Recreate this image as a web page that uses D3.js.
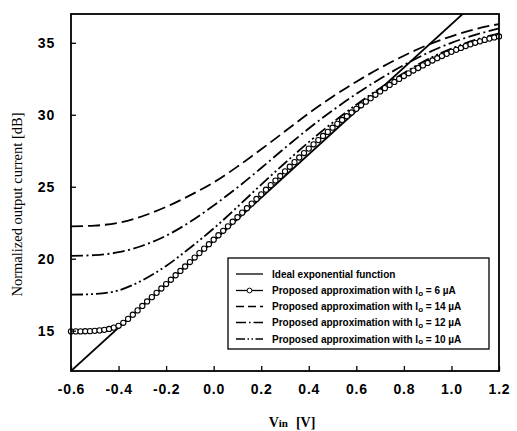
<!DOCTYPE html>
<html>
<head>
<meta charset="utf-8">
<script src="https://cdn.jsdelivr.net/npm/d3@7"></script>
<style>
  html, body { margin: 0; padding: 0; background: #fff; }
  svg { display: block; }
</style>
</head>
<body>
<svg id="chart" width="517" height="431"></svg>
<script>
// ---------------- data ----------------
const xTicks = [-0.6, -0.4, -0.2, 0.0, 0.2, 0.4, 0.6, 0.8, 1.0, 1.2];
const xTickLabels = ["-0.6", "-0.4", "-0.2", "0.0", "0.2", "0.4", "0.6", "0.8", "1.0", "1.2"];
const yTicks = [15, 20, 25, 30, 35];
const yTickLabels = ["15", "20", "25", "30", "35"];

// ideal exponential function (straight line in dB)
const vinIdeal = [-0.6, 1.2];
const ideal = [12.2, 39.3];

// coarse grid for the other approximations
const vinCoarse = [-0.6, -0.5, -0.4, -0.3, -0.2, -0.1, 0.0, 0.1, 0.2, 0.3, 0.4, 0.5, 0.6, 0.7, 0.8, 0.9, 1.0, 1.1, 1.2];
const approx14 = [22.25, 22.3, 22.5, 22.95, 23.6, 24.4, 25.3, 26.4, 27.6, 28.85, 30.1, 31.25, 32.3, 33.25, 34.1, 34.85, 35.45, 35.95, 36.3];
const approx12 = [20.2, 20.25, 20.45, 20.9, 21.6, 22.55, 23.7, 24.95, 26.3, 27.7, 29.05, 30.3, 31.45, 32.5, 33.45, 34.3, 35.0, 35.55, 36.0];
const approx10 = [17.5, 17.55, 17.8, 18.5, 19.5, 20.75, 22.1, 23.6, 25.15, 26.65, 28.1, 29.45, 30.7, 31.85, 32.9, 33.85, 34.6, 35.2, 35.65];

// Io = 6 uA, marked points
const vinFine = [-0.60, -0.58, -0.56, -0.54, -0.52, -0.50, -0.48, -0.46, -0.44, -0.42,
  -0.40, -0.38, -0.36, -0.34, -0.32, -0.30, -0.28, -0.26, -0.24, -0.22,
  -0.20, -0.18, -0.16, -0.14, -0.12, -0.10, -0.08, -0.06, -0.04, -0.02,
  0.00, 0.02, 0.04, 0.06, 0.08, 0.10, 0.12, 0.14, 0.16, 0.18,
  0.20, 0.22, 0.24, 0.26, 0.28, 0.30, 0.32, 0.34, 0.36, 0.38,
  0.40, 0.42, 0.44, 0.46, 0.48, 0.50, 0.52, 0.54, 0.56, 0.58,
  0.60, 0.62, 0.64, 0.66, 0.68, 0.70, 0.72, 0.74, 0.76, 0.78,
  0.80, 0.82, 0.84, 0.86, 0.88, 0.90, 0.92, 0.94, 0.96, 0.98,
  1.00, 1.02, 1.04, 1.06, 1.08, 1.10, 1.12, 1.14, 1.16, 1.18, 1.20];
const approx6 = [14.95, 14.95, 14.95, 14.96, 14.97, 14.99, 15.02, 15.06, 15.12, 15.21,
  15.34, 15.55, 15.82, 16.11, 16.41, 16.72, 17.03, 17.33, 17.63, 17.93,
  18.24, 18.54, 18.85, 19.15, 19.46, 19.77, 20.08, 20.39, 20.70, 21.01,
  21.32, 21.63, 21.94, 22.25, 22.57, 22.88, 23.20, 23.51, 23.83, 24.15,
  24.47, 24.79, 25.11, 25.43, 25.75, 26.07, 26.39, 26.71, 27.03, 27.34,
  27.65, 27.95, 28.24, 28.53, 28.81, 29.10, 29.37, 29.64, 29.90, 30.16,
  30.41, 30.66, 30.91, 31.15, 31.39, 31.62, 31.85, 32.07, 32.28, 32.49,
  32.69, 32.88, 33.07, 33.25, 33.43, 33.60, 33.77, 33.93, 34.08, 34.23,
  34.37, 34.51, 34.64, 34.77, 34.89, 35.00, 35.10, 35.20, 35.29, 35.37, 35.44];

const legendLabels = [
  "Ideal exponential function",
  "Proposed approximation with I|o| = 6 \u00B5A",
  "Proposed approximation with I|o| = 14 \u00B5A",
  "Proposed approximation with I|o| = 12 \u00B5A",
  "Proposed approximation with I|o| = 10 \u00B5A"
];

// ---------------- layout ----------------
const plot = { left: 71, top: 14, right: 499, bottom: 371 };
const svg = d3.select("#chart");

const x = d3.scaleLinear().domain([-0.6, 1.2]).range([plot.left, plot.right]);
const y = d3.scaleLinear().domain([12.2, 37]).range([plot.bottom, plot.top]);

svg.append("defs").append("clipPath").attr("id", "clip")
  .append("rect").attr("x", plot.left).attr("y", plot.top)
  .attr("width", plot.right - plot.left).attr("height", plot.bottom - plot.top);

const lineGen = d3.line().x(d => x(d[0])).y(d => y(d[1])).curve(d3.curveMonotoneX);
const zip = (xs, ys) => xs.map((v, i) => [v, ys[i]]);

const curves = svg.append("g").attr("clip-path", "url(#clip)");

const sw = 1.8;
curves.append("path").datum(zip(vinIdeal, ideal))
  .attr("d", d3.line().x(d => x(d[0])).y(d => y(d[1])))
  .attr("fill", "none").attr("stroke", "#000").attr("stroke-width", sw);

[[approx14, "12,5"], [approx12, "12,3.5,2,3.5"], [approx10, "12,3,2,3,2,3"]].forEach(([vals, dash]) => {
  curves.append("path").datum(zip(vinCoarse, vals))
    .attr("d", lineGen)
    .attr("fill", "none").attr("stroke", "#000").attr("stroke-width", sw)
    .attr("stroke-dasharray", dash);
});

curves.append("path").datum(zip(vinFine, approx6))
  .attr("d", lineGen)
  .attr("fill", "none").attr("stroke", "#000").attr("stroke-width", 1);

svg.append("g").selectAll("circle").data(zip(vinFine, approx6)).join("circle")
  .attr("cx", d => x(d[0])).attr("cy", d => y(d[1])).attr("r", 2.6)
  .attr("fill", "#fff").attr("stroke", "#000").attr("stroke-width", 1.1);

// ---------------- axes ----------------
const xAxis = d3.axisBottom(x).tickValues(xTicks).tickSize(-5).tickPadding(13)
  .tickFormat((d, i) => xTickLabels[i]);
const gx = svg.append("g").attr("transform", `translate(0,${plot.bottom})`).call(xAxis);
const yAxis = d3.axisLeft(y).tickValues(yTicks).tickSize(-5).tickPadding(16)
  .tickFormat((d, i) => yTickLabels[i]);
const gy = svg.append("g").attr("transform", `translate(${plot.left},0)`).call(yAxis);

[gx, gy].forEach(g => {
  g.select(".domain").remove();
  g.selectAll(".tick line").attr("stroke", "#000").attr("stroke-width", 1.3);
  g.selectAll(".tick text").attr("fill", "#000")
    .style("font-family", "'Liberation Sans', Arial, sans-serif")
    .style("font-weight", "bold").style("font-size", "14px")
    .style("letter-spacing", "0.8px");
});

// frame
svg.append("rect").attr("x", plot.left).attr("y", plot.top)
  .attr("width", plot.right - plot.left).attr("height", plot.bottom - plot.top)
  .attr("fill", "none").attr("stroke", "#000").attr("stroke-width", 1.8);

// axis titles
svg.append("text")
  .attr("transform", `translate(22,${(plot.top + plot.bottom) / 2 + 12}) rotate(-90)`)
  .attr("text-anchor", "middle")
  .style("font-family", "'Liberation Serif', 'Times New Roman', serif")
  .style("font-size", "14.5px").attr("fill", "#000")
  .text("Normalized output current [dB]");

const xt = svg.append("text")
  .attr("x", 292).attr("y", 427).attr("text-anchor", "middle")
  .style("font-family", "'Liberation Serif', 'Times New Roman', serif")
  .style("font-weight", "bold").style("font-size", "14px").attr("fill", "#000");
xt.append("tspan").text("V");
xt.append("tspan").style("font-size", "11px").text("in");
xt.append("tspan").attr("dx", 8).text("[V]");

// ---------------- legend ----------------
const leg = { x: 228, y: 258, w: 261, h: 91 };
svg.append("rect").attr("x", leg.x).attr("y", leg.y).attr("width", leg.w).attr("height", leg.h)
  .attr("fill", "#fff").attr("stroke", "#000").attr("stroke-width", 1.3);

const legDash = [null, null, "8,4", "10,3,1.5,3", "9,2.5,1.5,2.5,1.5,2.5"];
const rowY = [274, 290.5, 306.5, 322.5, 339];
legendLabels.forEach((lab, i) => {
  const ry = rowY[i];
  svg.append("line").attr("x1", 236).attr("x2", 263).attr("y1", ry).attr("y2", ry)
    .attr("stroke", "#000").attr("stroke-width", 1.3)
    .attr("stroke-dasharray", legDash[i]);
  if (i === 1) {
    svg.append("circle").attr("cx", 249.5).attr("cy", ry).attr("r", 2.4)
      .attr("fill", "#fff").attr("stroke", "#000").attr("stroke-width", 1);
  }
  const t = svg.append("text").attr("x", 272).attr("y", ry + 3.5)
    .style("font-family", "'Liberation Sans', Arial, sans-serif")
    .style("font-weight", "bold").style("font-size", "10px").attr("fill", "#000");
  const parts = lab.split("|");
  t.append("tspan").text(parts[0]);
  if (parts.length > 1) {
    t.append("tspan").style("font-size", "8px").attr("dy", 1.5).text(parts[1]);
    t.append("tspan").attr("dy", -1.5).text(parts[2]);
  }
});
</script>
</body>
</html>
